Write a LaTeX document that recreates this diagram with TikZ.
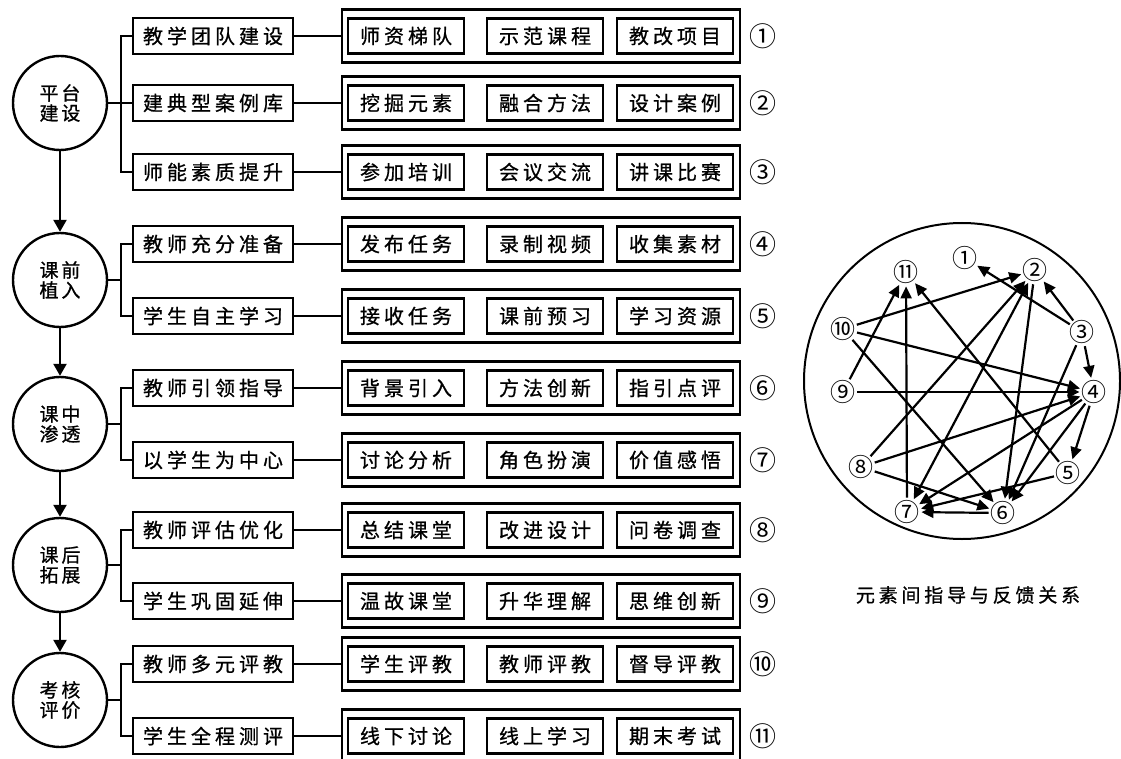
\documentclass[tikz,border=0pt]{standalone}
\usepackage{fontspec}
\setmainfont{Noto Sans CJK SC}
\newfontfamily\widecjk{Noto Sans CJK SC}[LetterSpace=20,FakeBold=0.8]
\newfontfamily\stagecjk{Noto Sans CJK SC}[LetterSpace=15,FakeBold=0.8]
\usetikzlibrary{arrows.meta,positioning,shapes}
\tikzset{
  stage/.style={draw,circle,line width=2.4pt,minimum size=94pt,inner sep=0pt,align=center,font=\stagecjk\fontsize{19}{20}\selectfont},
  task/.style={draw,line width=2.4pt,minimum width=160pt,minimum height=36pt,inner sep=0pt,font=\widecjk\fontsize{20}{22}\selectfont},
  item/.style={draw,line width=2.4pt,minimum width=116pt,minimum height=35pt,inner sep=0pt,font=\widecjk\fontsize{20}{22}\selectfont},
  rowbox/.style={draw,line width=2.4pt,minimum width=398pt,minimum height=53pt,inner sep=0pt},
  idx/.style={font=\fontsize{27}{27}\selectfont},
  elem/.style={circle,inner sep=-2pt,font=\fontsize{25}{25}\selectfont},
  link/.style={line width=2.4pt},
  flow/.style={line width=2.4pt,-{Triangle[length=12pt,width=13pt]}},
  rel/.style={line width=2.2pt,-{Triangle[length=12pt,width=11pt]}},
}

\begin{document}
\begin{tikzpicture}[x=1pt,y=-1pt]
	\useasboundingbox (0,0) rectangle (1121,759);

	% stages
	\node[stage] (s1) at (60,103) {平台\\建设};
	\node[stage] (s2) at (60,280) {课前\\植入};
	\node[stage] (s3) at (60,424) {课中\\渗透};
	\node[stage] (s4) at (60,565) {课后\\拓展};
	\node[stage] (s5) at (60,700) {考核\\评价};
	\foreach \p/\q in {s1/s2,s2/s3,s3/s4,s4/s5}
		\draw[flow] (\p) -- (\q);

	% rows
	\foreach \i/\y/\tk/\ia/\ib/\ic/\nr in {
		1/36/教学团队建设/师资梯队/示范课程/教改项目/①,
		2/103/建典型案例库/挖掘元素/融合方法/设计案例/②,
		3/172/师能素质提升/参加培训/会议交流/讲课比赛/③,
		4/244/教师充分准备/发布任务/录制视频/收集素材/④,
		5/316/学生自主学习/接收任务/课前预习/学习资源/⑤,
		6/388/教师引领指导/背景引入/方法创新/指引点评/⑥,
		7/460/以学生为中心/讨论分析/角色扮演/价值感悟/⑦,
		8/530/教师评估优化/总结课堂/改进设计/问卷调查/⑧,
		9/601/学生巩固延伸/温故课堂/升华理解/思维创新/⑨,
		10/664/教师多元评教/学生评教/教师评教/督导评教/⑩,
		11/736/学生全程测评/线下讨论/线上学习/期末考试/⑪}{
		\node[task] (t\i) at (213,\y) {\tk};
		\node[rowbox] (f\i) at (541,\y) {};
		\node[item] (a\i) at (406,\y) {\ia};
		\node[item] (b\i) at (545,\y) {\ib};
		\node[item] (c\i) at (675,\y) {\ic};
		\node[idx] (n\i) at (763,\y) {\nr};
		\draw[link] (t\i) -- (f\i);
	}
	\foreach \p/\q in {s1/t1,s1/t2,s1/t3,s2/t4,s2/t5,s3/t6,s3/t7,s4/t8,s4/t9,s5/t10,s5/t11}
		\draw[link] (\p.east) -- ++(13,0) |- (\q.west);

	% relations
	\node[draw,circle,line width=2pt,minimum size=316pt] (ring) at (962,381) {};
	\node[elem] (e1) at (965,258) {①};
	\node[elem] (e2) at (1035,270) {②};
	\node[elem] (e3) at (1082,332) {③};
	\node[elem] (e4) at (1094,392) {④};
	\node[elem] (e5) at (1068,473) {⑤};
	\node[elem] (e6) at (1003,513) {⑥};
	\node[elem] (e7) at (907,512) {⑦};
	\node[elem] (e8) at (861,467) {⑧};
	\node[elem] (e9) at (843,392) {⑨};
	\node[elem] (e10) at (843,329) {⑩};
	\node[elem] (e11) at (906,272) {⑪};
	\foreach \p/\q in {3/1,3/2,3/4,3/6,10/2,10/4,10/6,9/11,9/4,7/11,5/11,8/2,8/4,8/6,2/6,4/5,4/6,4/7,5/7,6/7}
		\draw[rel] (e\p) -- (e\q);
	\draw[rel,{Triangle[length=12pt,width=11pt]}-{Triangle[length=12pt,width=11pt]}] (e7) -- (e2);
	\node[font=\widecjk\fontsize{19}{19}\selectfont] (cap) at (968,595) {元素间指导与反馈关系};

\end{tikzpicture}
\end{document}
